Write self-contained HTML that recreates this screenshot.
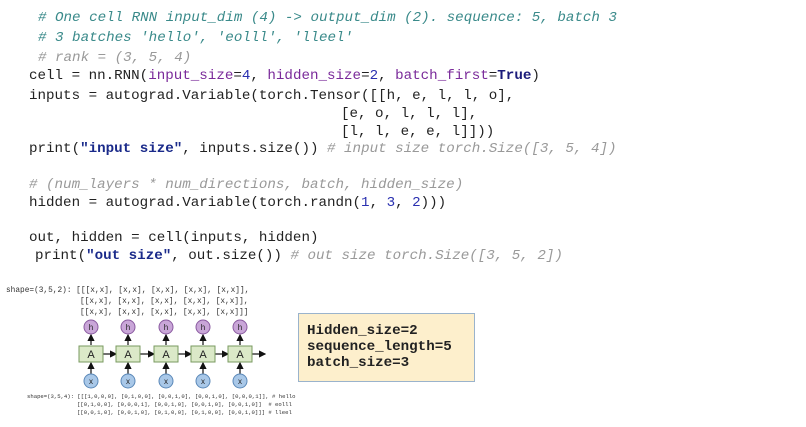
<!DOCTYPE html>
<html><head><style>
body{margin:0;width:806px;height:427px;background:#fff;position:relative;overflow:hidden;font-family:"Liberation Mono",monospace;}
.l{position:absolute;font-size:14.2px;white-space:pre;color:#222;line-height:16px;}
.c{color:#3a8a8a;font-style:italic}
.g{color:#999;font-style:italic}
.p{color:#7a2a9a}
.n{color:#2a30b0}
.s{color:#1a2a8a;font-weight:bold}
.k{color:#1a1a7a;font-weight:bold}
.sm{position:absolute;font-size:7.8px;white-space:pre;color:#333;line-height:11px;font-family:"Liberation Mono",monospace}
.tn{position:absolute;font-size:5.6px;white-space:pre;color:#333;line-height:7px;font-family:"Liberation Mono",monospace}
.box{position:absolute;left:298px;top:313px;width:175px;height:67px;background:#fdefcc;border:1.5px solid #9ab3cc;}
.bt{position:absolute;font-size:14.2px;font-weight:bold;white-space:pre;color:#222;line-height:16px}
</style></head><body>
<div class="l c" style="left:38px;top:10px"># One cell RNN input_dim (4) -&gt; output_dim (2). sequence: 5, batch 3</div>
<div class="l c" style="left:38px;top:30px"># 3 batches 'hello', 'eolll', 'lleel'</div>
<div class="l g" style="left:38px;top:50px"># rank = (3, 5, 4)</div>
<div class="l" style="left:29px;top:68px">cell = nn.RNN(<span class="p">input_size</span>=<span class="n">4</span>, <span class="p">hidden_size</span>=<span class="n">2</span>, <span class="p">batch_first</span>=<span class="k">True</span>)</div>
<div class="l" style="left:29px;top:88px">inputs = autograd.Variable(torch.Tensor([[h, e, l, l, o],</div>
<div class="l" style="left:341px;top:106px">[e, o, l, l, l],</div>
<div class="l" style="left:341px;top:124px">[l, l, e, e, l]]))</div>
<div class="l" style="left:29px;top:141px">print(<span class="s">"input size"</span>, inputs.size()) <span class="g"># input size torch.Size([3, 5, 4])</span></div>
<div class="l g" style="left:29px;top:177px"># (num_layers * num_directions, batch, hidden_size)</div>
<div class="l" style="left:29px;top:195px">hidden = autograd.Variable(torch.randn(<span class="n">1</span>, <span class="n">3</span>, <span class="n">2</span>)))</div>
<div class="l" style="left:29px;top:230px">out, hidden = cell(inputs, hidden)</div>
<div class="l" style="left:35px;top:248px">print(<span class="s">"out size"</span>, out.size()) <span class="g"># out size torch.Size([3, 5, 2])</span></div>

<div class="sm" style="left:6px;top:286px">shape=(3,5,2): [[[x,x], [x,x], [x,x], [x,x], [x,x]],</div>
<div class="sm" style="left:80px;top:297px">[[x,x], [x,x], [x,x], [x,x], [x,x]],</div>
<div class="sm" style="left:80px;top:308px">[[x,x], [x,x], [x,x], [x,x], [x,x]]]</div>

<svg style="position:absolute;left:0;top:0" width="806" height="427">
<defs><marker id="a" markerWidth="6" markerHeight="6" refX="5" refY="3" orient="auto"><path d="M0,0 L6,3 L0,6z" fill="#111"/></marker></defs>
<g stroke="#111" stroke-width="1.2" fill="none">
<line x1="91" y1="345" x2="91" y2="335" marker-end="url(#a)"/>
<line x1="128" y1="345" x2="128" y2="335" marker-end="url(#a)"/>
<line x1="166" y1="345" x2="166" y2="335" marker-end="url(#a)"/>
<line x1="203" y1="345" x2="203" y2="335" marker-end="url(#a)"/>
<line x1="240" y1="345" x2="240" y2="335" marker-end="url(#a)"/>
<line x1="91" y1="374" x2="91" y2="363" marker-end="url(#a)"/>
<line x1="128" y1="374" x2="128" y2="363" marker-end="url(#a)"/>
<line x1="166" y1="374" x2="166" y2="363" marker-end="url(#a)"/>
<line x1="203" y1="374" x2="203" y2="363" marker-end="url(#a)"/>
<line x1="240" y1="374" x2="240" y2="363" marker-end="url(#a)"/>
<line x1="103" y1="354" x2="116" y2="354" marker-end="url(#a)"/>
<line x1="140" y1="354" x2="154" y2="354" marker-end="url(#a)"/>
<line x1="178" y1="354" x2="191" y2="354" marker-end="url(#a)"/>
<line x1="215" y1="354" x2="228" y2="354" marker-end="url(#a)"/>
<line x1="252" y1="354" x2="265" y2="354" marker-end="url(#a)"/>
</g>
<g fill="#dbe9c8" stroke="#7a9a60" stroke-width="1">
<rect x="79" y="346" width="24" height="16"/><rect x="116" y="346" width="24" height="16"/><rect x="154" y="346" width="24" height="16"/><rect x="191" y="346" width="24" height="16"/><rect x="228" y="346" width="24" height="16"/>
</g>
<g font-family="Liberation Sans" font-size="11" text-anchor="middle" fill="#222">
<text x="91" y="358">A</text><text x="128" y="358">A</text><text x="166" y="358">A</text><text x="203" y="358">A</text><text x="240" y="358">A</text>
</g>
<g fill="#c9a6d8" stroke="#8a5aa0" stroke-width="1">
<circle cx="91" cy="327" r="7"/><circle cx="128" cy="327" r="7"/><circle cx="166" cy="327" r="7"/><circle cx="203" cy="327" r="7"/><circle cx="240" cy="327" r="7"/>
</g>
<g fill="#a9c8e8" stroke="#5a88b8" stroke-width="1">
<circle cx="91" cy="381" r="7"/><circle cx="128" cy="381" r="7"/><circle cx="166" cy="381" r="7"/><circle cx="203" cy="381" r="7"/><circle cx="240" cy="381" r="7"/>
</g>
<g font-family="Liberation Sans" font-size="8" text-anchor="middle" fill="#222">
<text x="91" y="330">h</text><text x="128" y="330">h</text><text x="166" y="330">h</text><text x="203" y="330">h</text><text x="240" y="330">h</text>
<text x="91" y="384">x</text><text x="128" y="384">x</text><text x="166" y="384">x</text><text x="203" y="384">x</text><text x="240" y="384">x</text>
</g>
</svg>

<div class="tn" style="left:27px;top:393px">shape=(3,5,4): [[[1,0,0,0], [0,1,0,0], [0,0,1,0], [0,0,1,0], [0,0,0,1]], # hello</div>
<div class="tn" style="left:77px;top:401px">[[0,1,0,0], [0,0,0,1], [0,0,1,0], [0,0,1,0], [0,0,1,0]]  # eolll</div>
<div class="tn" style="left:77px;top:409px">[[0,0,1,0], [0,0,1,0], [0,1,0,0], [0,1,0,0], [0,0,1,0]]] # lleel</div>

<div class="box"></div>
<div class="bt" style="left:307px;top:323px">Hidden_size=2</div>
<div class="bt" style="left:307px;top:339px">sequence_length=5</div>
<div class="bt" style="left:307px;top:355px">batch_size=3</div>
</body></html>
